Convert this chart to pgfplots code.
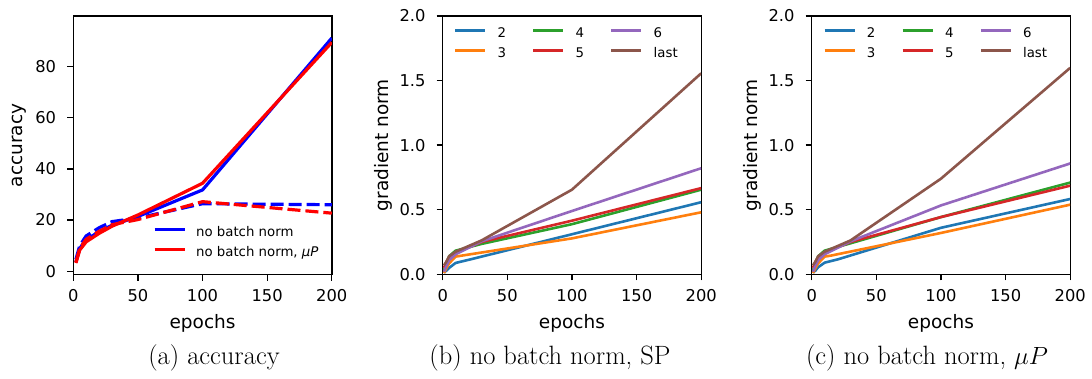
\documentclass[border=0pt]{standalone}
\usepackage{pgfplots}
\pgfplotsset{compat=1.18}
\usepackage{fontspec}
\newfontfamily\dejavu{DejaVu Sans}
\definecolor{tabblue}{HTML}{1F77B4}
\definecolor{taborange}{HTML}{FF7F0E}
\definecolor{tabgreen}{HTML}{2CA02C}
\definecolor{tabred}{HTML}{D62728}
\definecolor{tabpurple}{HTML}{9467BD}
\definecolor{tabbrown}{HTML}{8C564B}
\newcommand\labfont{\dejavu\fontsize{18.5}{18.5}\selectfont}
\pgfplotsset{
  mpl/.style={
    scale only axis, width=258.5pt, height=258.4pt, anchor=south west,
    xmin=0, xmax=200, xtick={0,50,100,150,200},
    tick align=outside, xtick pos=lower, ytick pos=left,
    major tick length=6pt,
    every tick/.style={black, line width=1.3pt},
    axis line style={black, line width=1.4pt},
    tick label style={font=\dejavu\fontsize{16.3}{16.3}\selectfont, inner sep=0pt},
    /pgf/number format/assume math mode=true,
    xticklabel style={yshift=-9pt},
    yticklabel style={xshift=-11pt},
    every axis x label/.style={at={(rel axis cs:0.5,-0.2108)}, anchor=base, font=\labfont},
    legend style={draw=none, fill=none, inner sep=0pt, outer sep=0pt,
      font=\dejavu\fontsize{13.3}{13.3}\selectfont,
      nodes={inner sep=0pt, text height=10pt, text depth=3pt},
      row sep=7pt},
    legend cell align=left,
    legend image code/.code={\draw[#1] (0pt,3.6pt) -- (30pt,3.6pt);},
  },
  gn/.style={mpl, ymin=0, ymax=2, ytick={0,0.5,1,1.5,2},
    yticklabel style={/pgf/number format/.cd, fixed, fixed zerofill, precision=1},
    every axis y label/.style={at={(rel axis cs:-0.231,0.5)}, rotate=90, anchor=center, font=\labfont},
    ylabel={gradient norm}, xlabel={epochs},
    legend columns=2, transpose legend,
    legend style={/tikz/every odd column/.style={column sep=11pt},
                  /tikz/every even column/.style={column sep=26pt}},
    every axis plot/.append style={line width=2.6pt, line join=round},
  },
}
\begin{document}
\begin{tikzpicture}
\useasboundingbox (0,0) rectangle (1092pt,-378pt);
% ---------- (a) accuracy ----------
\begin{axis}[mpl, at={(73.3pt,-274.5pt)},
  ymin=-1.3, ymax=99.8, ytick={0,20,40,60,80},
  every axis y label/.style={at={(rel axis cs:-0.2099,0.5)}, rotate=90, anchor=center, font=\labfont},
  ylabel={accuracy}, xlabel={epochs},
  legend style={at={(rel axis cs:0.308,0.1853)}, anchor=north west,
    /tikz/every odd column/.style={column sep=10pt}},
  every axis plot/.append style={line width=3.2pt, line join=round},
]
\addplot[blue] coordinates {(2,3.5) (5,8.9) (10,12.4) (20,15.4) (30,18) (50,21.4) (100,31.8) (200,91.2)};
\addlegendentry{no batch norm}
\addplot[blue, dash pattern=on 13pt off 5pt, forget plot] coordinates {(2,4.6) (5,10) (10,13.8) (20,17) (30,19.4) (50,20.8) (100,26.4) (200,26.0)};
\addplot[red] coordinates {(2,3.2) (5,8.3) (10,11.5) (20,14.8) (30,17.6) (50,22) (100,34.4) (200,89.5)};
\addlegendentry{no batch norm, \textit{μP}}
\addplot[red, dash pattern=on 13pt off 5pt, forget plot] coordinates {(2,3.5) (5,9) (10,12.5) (20,15.6) (30,18.2) (50,20.2) (100,27.2) (200,22.7)};
\end{axis}
% ---------- (b) SP ----------
\begin{axis}[gn, at={(442.7pt,-274.3pt)},
  legend style={at={(rel axis cs:0.0437,0.955)}, anchor=north west}]
\addplot[tabblue] coordinates {(1,0.013) (3,0.03) (5,0.05) (10,0.088) (20,0.112) (100,0.31) (200,0.558)};
\addlegendentry{2}
\addplot[taborange] coordinates {(1,0.01) (3,0.05) (5,0.085) (10,0.137) (15,0.145) (100,0.278) (200,0.48)};
\addlegendentry{3}
\addplot[tabgreen] coordinates {(1,0.03) (3,0.09) (5,0.14) (10,0.183) (30,0.235) (100,0.388) (200,0.655)};
\addlegendentry{4}
\addplot[tabred] coordinates {(1,0.05) (3,0.1) (5,0.13) (10,0.165) (30,0.25) (100,0.415) (200,0.667)};
\addlegendentry{5}
\addplot[tabpurple] coordinates {(1,0.02) (3,0.07) (5,0.11) (10,0.155) (30,0.255) (100,0.49) (200,0.821)};
\addlegendentry{6}
\addplot[tabbrown] coordinates {(1,0.07) (3,0.1) (5,0.14) (10,0.175) (30,0.262) (100,0.655) (200,1.556)};
\addlegendentry{last}
\end{axis}
% ---------- (c) muP ----------
\begin{axis}[gn, at={(811.7pt,-274.3pt)},
  legend style={at={(rel axis cs:0.045,0.955)}, anchor=north west}]
\addplot[tabblue] coordinates {(1,0.013) (3,0.03) (5,0.055) (10,0.09) (20,0.115) (100,0.36) (200,0.583)};
\addlegendentry{2}
\addplot[taborange] coordinates {(1,0.01) (3,0.05) (5,0.085) (10,0.137) (15,0.145) (100,0.32) (200,0.539)};
\addlegendentry{3}
\addplot[tabgreen] coordinates {(1,0.03) (3,0.09) (5,0.14) (10,0.183) (30,0.24) (100,0.443) (200,0.71)};
\addlegendentry{4}
\addplot[tabred] coordinates {(1,0.05) (3,0.1) (5,0.13) (10,0.165) (30,0.25) (100,0.443) (200,0.686)};
\addlegendentry{5}
\addplot[tabpurple] coordinates {(1,0.02) (3,0.07) (5,0.11) (10,0.155) (30,0.255) (100,0.533) (200,0.858)};
\addlegendentry{6}
\addplot[tabbrown] coordinates {(1,0.07) (3,0.1) (5,0.14) (10,0.175) (30,0.262) (100,0.74) (200,1.598)};
\addlegendentry{last}
\end{axis}
% ---------- captions ----------
\node[anchor=base, font=\fontsize{26.5}{26.5}\selectfont] at (214pt,-364pt) {(a) accuracy};
\node[anchor=base, font=\fontsize{26.5}{26.5}\selectfont] at (550pt,-364pt) {(b) no batch norm, SP};
\node[anchor=base, font=\fontsize{26.5}{26.5}\selectfont] at (927pt,-364pt) {(c) no batch norm, $\mu P$};
\end{tikzpicture}
\end{document}
